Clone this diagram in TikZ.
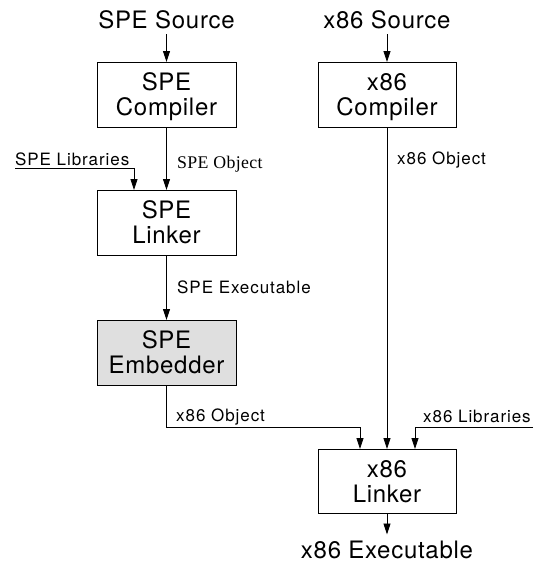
\documentclass[tikz,border=0pt]{standalone}
\usepackage{fontspec}
\setmainfont{TeX Gyre Heros}
\newfontfamily\hvbig[LetterSpace=3]{TeX Gyre Heros}
\newfontfamily\hvsmall[LetterSpace=5.5]{TeX Gyre Heros}
\newfontfamily\tmsmall[LetterSpace=2]{Liberation Serif}
\usetikzlibrary{arrows.meta}

\begin{document}
\begin{tikzpicture}[x=1pt,y=-1pt,
  bigtext/.style={font=\hvbig\fontsize{24}{25}\selectfont},
  proc/.style={draw, line width=0.8pt, minimum width=139pt, minimum height=65pt,
    inner sep=0pt, outer sep=0pt, align=center, text depth=0pt, bigtext},
  endtext/.style={bigtext, inner sep=0pt, outer sep=0pt, anchor=base},
  lbl/.style={font=\hvsmall\fontsize{17}{18}\selectfont, anchor=base west, inner sep=0pt},
  serlbl/.style={font=\tmsmall\fontsize{17.8}{19}\selectfont, anchor=base west, inner sep=0pt},
  flow/.style={line width=0.8pt, -{Triangle[length=11pt,width=7pt]}}]

\useasboundingbox (0,0) rectangle (535,562);

% SPE tool chain
\node[endtext] (spesrc) at (166.5,28) {SPE Source};
\node[proc] (specomp) at (166.5,94.5) {SPE\\Compiler};
\node[proc] (spelink) at (166.5,222.5) {SPE\\Linker};
\node[proc, fill=gray!25] (speemb) at (166.5,352.5) {SPE\\Embedder};

% x86 tool chain
\node[endtext] (x86src) at (387,28) {x86 Source};
\node[proc, minimum width=138pt] (x86comp) at (387,94.5) {x86\\Compiler};
\node[proc, minimum width=138pt, minimum height=64pt] (x86link) at (387,481) {x86\\Linker};
\node[endtext] (x86exe) at (387,558) {x86 Executable};

% edge labels
\node[serlbl] (speobj) at (177,168) {SPE Object};
\node[lbl] (splibs) at (15,165) {SPE Libraries};
\node[lbl] (speexe) at (177,293) {SPE Executable};
\node[lbl] (embobj) at (176,421) {x86 Object};
\node[lbl] (xobj) at (397,164) {x86 Object};
\node[lbl] (xlibs) at (423,422) {x86 Libraries};
\coordinate (xlibend) at (533,427);

% connectors
\draw[flow] ([yshift=-6pt]spesrc.south) -- (specomp.north);
\draw[flow] ([yshift=-6pt]x86src.south) -- (x86comp.north);
\draw[flow] (specomp) -- (spelink);
\draw[flow] ([yshift=-3pt]splibs.base west) -| ([xshift=-32.5pt]spelink.north);
\draw[flow] (spelink) -- (speemb);
\draw[flow] (speemb.south) -- ++(0,42) -| ([xshift=-27pt]x86link.north);
\draw[flow] (x86comp) -- (x86link);
\draw[flow] (xlibend) -| ([xshift=28pt]x86link.north);
\draw[flow, shorten >=6pt] (x86link.south) -- (x86exe.north);
\end{tikzpicture}
\end{document}
